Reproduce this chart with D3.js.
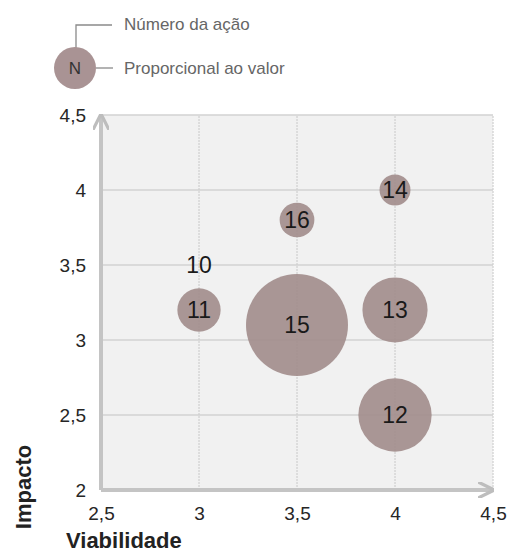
<!DOCTYPE html>
<html><head><meta charset="utf-8">
<script src="https://cdn.jsdelivr.net/npm/d3@7"></script>
<style>body{margin:0;background:#fff}svg{display:block}</style>
</head><body>
<script>
const labels = ["10","11","12","13","14","15","16"];
const viabilidade = [3, 3, 4, 4, 4, 3.5, 3.5];
const impacto = [3.5, 3.2, 2.5, 3.2, 4, 3.1, 3.8];
const valores = [0, 4.5, 12.9, 10.2, 2.3, 25, 2.9];
const xTicks = [2.5, 3, 3.5, 4, 4.5];
const yTicks = [2, 2.5, 3, 3.5, 4, 4.5];

const W = 509, H = 553;
const svg = d3.select("body").append("svg").attr("width", W).attr("height", H);
const x = d3.scaleLinear().domain([2.5, 4.5]).range([101, 493]);
const y = d3.scaleLinear().domain([2, 4.5]).range([490, 115]);
const r = d3.scaleSqrt().domain([0, 25]).range([0, 51]);
const fmt = d => String(d).replace(".", ",");
const font = "Arial, 'Liberation Sans', sans-serif";

// plot background
svg.append("rect").attr("x", x(2.5)).attr("y", y(4.5))
  .attr("width", x(4.5) - x(2.5)).attr("height", y(2) - y(4.5)).attr("fill", "#f1f1f1");

// gridlines
svg.append("g").selectAll("line").data(yTicks.slice(1)).join("line")
  .attr("x1", x(2.5)).attr("x2", x(4.5)).attr("y1", d => y(d)).attr("y2", d => y(d))
  .attr("stroke", "#d2d2d2").attr("stroke-width", 1.5);
svg.append("g").selectAll("line").data(xTicks.slice(1)).join("line")
  .attr("y1", y(2)).attr("y2", y(4.5)).attr("x1", d => x(d)).attr("x2", d => x(d))
  .attr("stroke", "#cfcfcf").attr("stroke-width", 1.2).attr("stroke-dasharray", "2,1");

// axes
const defs = svg.append("defs");
defs.append("marker").attr("id", "arr").attr("viewBox", "0 0 10 10").attr("refX", 8).attr("refY", 5)
  .attr("markerWidth", 4).attr("markerHeight", 4).attr("orient", "auto")
  .append("path").attr("d", "M0,0 L10,5 L0,10").attr("fill", "none").attr("stroke", "#bdbdbd").attr("stroke-width", 2);
svg.append("line").attr("x1", x(2.5)).attr("x2", x(4.5) - 2).attr("y1", y(2)).attr("y2", y(2))
  .attr("stroke", "#c4c4c4").attr("stroke-width", 4).attr("marker-end", "url(#arr)");
svg.append("line").attr("x1", x(2.5)).attr("x2", x(2.5)).attr("y1", y(2)).attr("y2", y(4.5) + 2)
  .attr("stroke", "#c4c4c4").attr("stroke-width", 4).attr("marker-end", "url(#arr)");

// tick labels via d3 axes
const xAxis = svg.append("g").attr("transform", `translate(0,${y(2)})`)
  .call(d3.axisBottom(x).tickValues(xTicks).tickFormat(fmt).tickSize(0).tickPadding(17));
const yAxis = svg.append("g").attr("transform", `translate(${x(2.5)},0)`)
  .call(d3.axisLeft(y).tickValues(yTicks).tickFormat(fmt).tickSize(0).tickPadding(15));
[xAxis, yAxis].forEach(a => {
  a.select(".domain").remove();
  a.selectAll("text").attr("font-family", font).attr("font-size", 19).attr("fill", "#262626");
});

// bubbles
const data = labels.map((l, i) => ({l, vx: viabilidade[i], vy: impacto[i], v: valores[i]}));
svg.append("g").selectAll("circle").data(data.filter(d => d.v > 0)).join("circle")
  .attr("cx", d => x(d.vx)).attr("cy", d => y(d.vy)).attr("r", d => r(d.v))
  .attr("fill", "#a18c8b").attr("fill-opacity", 0.9);
svg.append("g").selectAll("text").data(data).join("text")
  .attr("x", d => x(d.vx)).attr("y", d => y(d.vy)).attr("dy", "0.36em")
  .attr("text-anchor", "middle").attr("font-family", font).attr("font-size", 23)
  .attr("fill", "#1a1a1a").text(d => d.l);

// axis titles
svg.append("text").attr("x", 66).attr("y", 548).attr("font-family", font).attr("font-weight", "bold")
  .attr("font-size", 22).attr("fill", "#222").text("Viabilidade");
svg.append("text").attr("transform", "translate(31,487) rotate(-90)").attr("text-anchor", "middle")
  .attr("font-family", font).attr("font-weight", "bold").attr("font-size", 22).attr("fill", "#222").text("Impacto");

// legend
const lg = svg.append("g");
lg.append("path").attr("d", "M76,55 V25 H112").attr("fill", "none").attr("stroke", "#8a8a8a").attr("stroke-width", 1.3);
lg.append("line").attr("x1", 96).attr("x2", 113).attr("y1", 68).attr("y2", 68).attr("stroke", "#8a8a8a").attr("stroke-width", 1.3);
lg.append("circle").attr("cx", 75).attr("cy", 68).attr("r", 21).attr("fill", "#a99394");
lg.append("text").attr("x", 75).attr("y", 68).attr("dy", "0.36em").attr("text-anchor", "middle")
  .attr("font-family", font).attr("font-size", 17).attr("fill", "#333").text("N");
lg.append("text").attr("x", 124).attr("y", 24).attr("dy", "0.36em").attr("font-family", font)
  .attr("font-size", 17).attr("fill", "#666").text("Número da ação");
lg.append("text").attr("x", 124).attr("y", 68).attr("dy", "0.36em").attr("font-family", font)
  .attr("font-size", 17).attr("fill", "#666").text("Proporcional ao valor");
</script>
</body></html>
